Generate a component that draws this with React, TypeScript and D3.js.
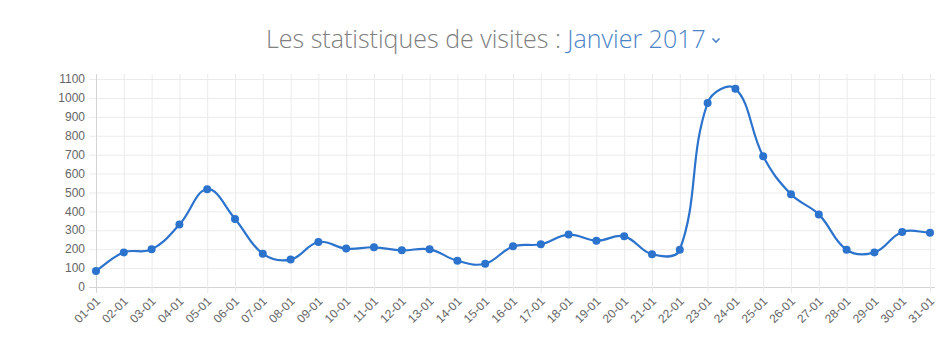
import React from "react";
import * as d3 from "d3";

const categories = [
  "01-01","02-01","03-01","04-01","05-01","06-01","07-01","08-01","09-01","10-01",
  "11-01","12-01","13-01","14-01","15-01","16-01","17-01","18-01","19-01","20-01",
  "21-01","22-01","23-01","24-01","25-01","26-01","27-01","28-01","29-01","30-01","31-01",
];
const visits = [
  85, 183, 199, 330, 517, 360, 176, 145, 238, 203,
  210, 194, 199, 139, 123, 215, 226, 277, 245, 268,
  173, 197, 973, 1049, 691, 490, 384, 197, 183, 291, 287,
];
const yTicks = [0, 100, 200, 300, 400, 500, 600, 700, 800, 900, 1000, 1100];

const W = 951, H = 355;
const left = 96, right = 930, top = 79, bottom = 287;

function splinePath(pts: [number, number][], t: number) {
  const p = d3.path();
  const n = pts.length;
  const cps: { px: number; py: number; nx: number; ny: number }[] = [];
  for (let i = 0; i < n; i++) {
    const prev = pts[Math.max(0, i - 1)];
    const cur = pts[i];
    const next = pts[Math.min(n - 1, i + 1)];
    const d01 = Math.hypot(cur[0] - prev[0], cur[1] - prev[1]);
    const d12 = Math.hypot(next[0] - cur[0], next[1] - cur[1]);
    let s01 = d01 / (d01 + d12);
    let s12 = d12 / (d01 + d12);
    if (isNaN(s01)) s01 = 0;
    if (isNaN(s12)) s12 = 0;
    const fa = t * s01, fb = t * s12;
    cps.push({
      px: cur[0] - fa * (next[0] - prev[0]),
      py: cur[1] - fa * (next[1] - prev[1]),
      nx: cur[0] + fb * (next[0] - prev[0]),
      ny: cur[1] + fb * (next[1] - prev[1]),
    });
  }
  p.moveTo(pts[0][0], pts[0][1]);
  for (let i = 1; i < n; i++) {
    p.bezierCurveTo(cps[i - 1].nx, cps[i - 1].ny, cps[i].px, cps[i].py, pts[i][0], pts[i][1]);
  }
  return p.toString();
}

export default function App() {
  const x = d3.scalePoint<string>().domain(categories).range([left, right]);
  const y = d3.scaleLinear().domain([0, 1100]).range([bottom, top]);
  const pts: [number, number][] = categories.map((c, i) => [x(c) as number, y(visits[i])]);
  const axisFont = "'Liberation Sans', Arial, sans-serif";
  const lineColor = "#2b73cc";
  return (
    <svg width={W} height={H} style={{ position: "absolute", left: 0, top: 0, background: "#fff" }}>
      <text x={266} y={48} fontFamily="'Open Sans', sans-serif" fontWeight={300} fontSize={25}>
        <tspan fill="#808080">Les statistiques de visites : </tspan>
        <tspan fill="#4a84c7">Janvier 2017</tspan>
      </text>
      <path d="M712.5,38.5 L716,42 L719.5,38.5" fill="none" stroke="#4a84c7" strokeWidth={1.6} />
      <g>
        {yTicks.map((v) => (
          <line key={"h" + v} x1={89} x2={935} y1={y(v) + 0.5} y2={y(v) + 0.5}
            stroke={v === 0 ? "#d4d4d4" : "#ebebeb"} strokeWidth={1} />
        ))}
        {categories.map((c) => (
          <line key={"v" + c} x1={(x(c) as number) + 0.5} x2={(x(c) as number) + 0.5} y1={74} y2={293}
            stroke="#ebebeb" strokeWidth={1} />
        ))}
        <line x1={left + 0.5} x2={left + 0.5} y1={74} y2={293} stroke="#d4d4d4" />
      </g>
      {yTicks.map((v) => (
        <text key={"yl" + v} x={85} y={y(v)} dy="0.35em" textAnchor="end"
          fontFamily={axisFont} fontSize={12} fill="#666">{v}</text>
      ))}
      {categories.map((c) => (
        <text key={"xl" + c} transform={`translate(${(x(c) as number) + 2},${299}) rotate(-45)`}
          textAnchor="end" dy="0.35em" fontFamily={axisFont} fontSize={12} fill="#666">{c}</text>
      ))}
      <path d={splinePath(pts, 0.4)} fill="none" stroke={lineColor} strokeWidth={2.2} />
      {pts.map((p, i) => (
        <circle key={"pt" + i} cx={p[0]} cy={p[1]} r={4} fill={lineColor} />
      ))}
    </svg>
  );
}
